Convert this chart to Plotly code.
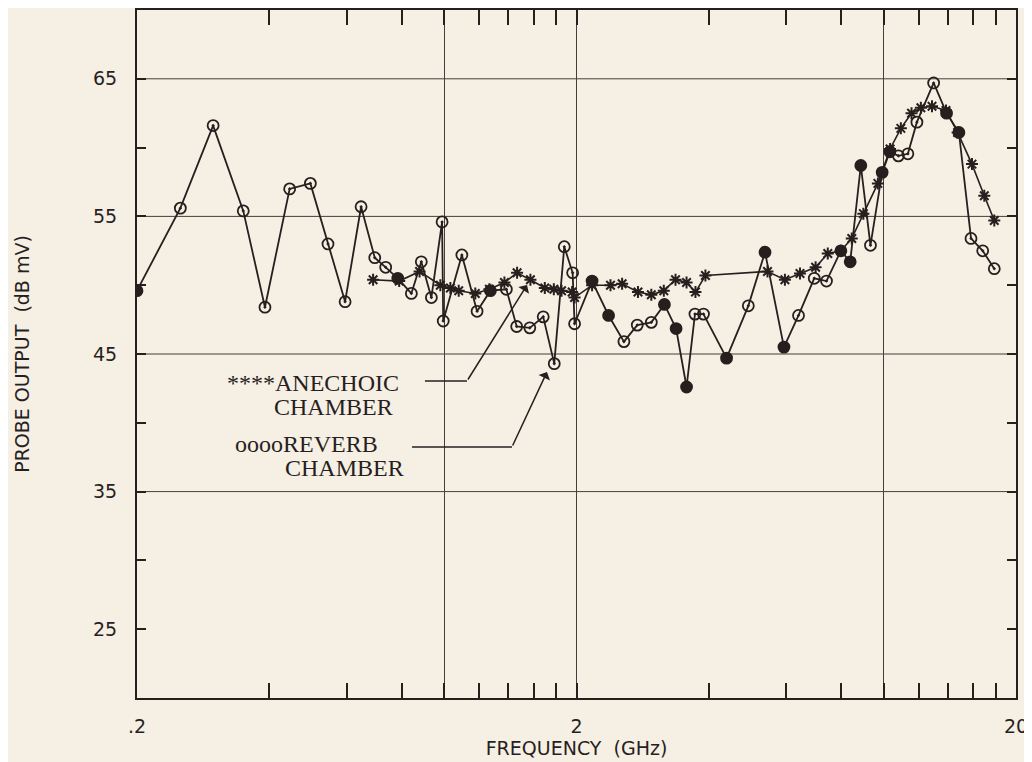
import plotly.graph_objects as go

# Colors
paper_cream = 'rgb(245,239,228)'
ink = 'rgb(40,30,30)'
grid_ink = 'rgb(70,62,58)'

# Reverb chamber (circles)
reverb_freq = [0.2, 0.251, 0.298, 0.349, 0.391, 0.445, 0.496, 0.544, 0.595, 0.647,
               0.695, 0.736, 0.784, 0.842, 0.887, 0.935, 0.989, 0.995, 1.097, 1.188,
               1.274, 1.385, 1.462, 1.566, 1.68, 1.78, 1.876, 1.96, 1.98, 2.17,
               2.366, 2.564, 2.75, 2.96, 3.17, 3.37, 3.56, 3.72, 3.89, 4.39,
               4.92, 5.37, 5.93, 6.40, 6.95, 7.41, 7.99, 8.39, 8.87, 9.33,
               9.92, 10.33, 10.8, 11.35, 11.9, 12.99, 13.9, 14.83, 15.8, 16.8, 17.85]
reverb_db = [49.6, 55.6, 61.6, 55.4, 48.4, 57.0, 57.4, 53.0, 48.8, 55.7,
             52.0, 51.3, 50.5, 49.4, 51.7, 49.1, 54.6, 47.4, 52.2, 48.1,
             49.6, 49.7, 47.0, 46.9, 47.7, 44.3, 52.8, 50.9, 47.2, 50.3,
             47.8, 45.9, 47.1, 47.3, 48.6, 46.85, 42.6, 47.9, 47.9, 44.7,
             48.5, 52.4, 45.5, 47.8, 50.5, 50.3, 52.5, 51.7, 58.7, 52.9,
             58.2, 59.7, 59.4, 59.55, 61.85, 64.7, 62.5, 61.1, 53.4, 52.5, 51.2]

# Anechoic chamber (asterisks)
anechoic_freq = [0.689, 0.79, 0.879, 0.98, 1.033, 1.079, 1.177, 1.267, 1.371, 1.465,
                 1.571, 1.694, 1.776, 1.849, 1.955, 1.98, 2.17, 2.39, 2.54, 2.76,
                 2.96, 3.16, 3.36, 3.56, 3.73, 3.93, 5.44, 5.96, 6.45, 7.0,
                 7.46, 7.99, 8.46, 8.99, 9.7, 10.34, 10.94, 11.57, 12.15, 12.88,
                 13.86, 14.73, 15.88, 16.94, 17.85]
anechoic_db = [50.4, 50.3, 51.0, 50.0, 49.8, 49.6, 49.4, 49.7, 50.2, 50.9,
               50.4, 49.8, 49.7, 49.6, 49.5, 49.1, 50.0, 50.0, 50.1, 49.5,
               49.3, 49.6, 50.4, 50.2, 49.5, 50.7, 51.0, 50.4, 50.85, 51.3,
               52.3, 52.5, 53.4, 55.2, 57.4, 59.9, 61.4, 62.5, 62.9, 63.0,
               62.7, 61.1, 58.8, 56.5, 54.7]

# Axis ticks
x_major = [0.2, 1, 2, 10, 20]
x_major_text = ['.2', '', '2', '', '20']
x_minor = [0.4, 0.6, 0.8, 1.2, 1.4, 1.6, 1.8, 4, 6, 8, 12, 14, 16, 18]
y_ticks = [25, 35, 45, 55, 65]
y_minor = [30, 40, 50, 60]
y_grid = [35, 45, 55, 65]

# some of the plotted circles came out solid
solid_points = {0, 12, 20, 29, 30, 34, 35, 36, 39, 41, 42, 46, 47, 48, 50, 51, 56, 57}
reverb_symbols = ['circle' if i in solid_points else 'circle-open-dot' for i in range(len(reverb_freq))]

fig = go.Figure()

fig.add_trace(go.Scatter(x=anechoic_freq, y=anechoic_db, mode='lines+markers',
                         name='Anechoic chamber',
                         line=dict(color=ink, width=1.6),
                         marker=dict(symbol='asterisk-open', size=10, color=ink,
                                     line=dict(color=ink, width=2))))

fig.add_trace(go.Scatter(x=reverb_freq, y=reverb_db, mode='lines+markers',
                         name='Reverb chamber',
                         line=dict(color=ink, width=1.8),
                         marker=dict(symbol=reverb_symbols, size=11, color=ink,
                                     line=dict(color=ink, width=1.8))))

for g in y_grid:
    fig.add_hline(y=g, line=dict(color=grid_ink, width=1), layer='below')

serif = dict(family='Liberation Serif', size=24, color=ink)
labels = [
    ('****ANECHOIC', 0.1997, 0.4578),
    ('CHAMBER', 0.2241, 0.4230),
    ('ooooREVERB', 0.1928, 0.3692),
    ('CHAMBER', 0.2366, 0.3343),
]
for txt, lx, ly in labels:
    fig.add_annotation(x=lx, y=ly, xref='paper', yref='paper', text=txt,
                       showarrow=False, font=serif, xanchor='center', yanchor='middle')

# leader lines with arrows
fig.add_shape(type='line', xref='paper', yref='paper', x0=0.3276, x1=0.3754, y0=0.4608, y1=0.4608,
              line=dict(color=ink, width=1.5))
fig.add_annotation(x=0.4437, y=0.6003, xref='paper', yref='paper', ax=-60, ay=96,
                   text='', showarrow=True, arrowhead=1, arrowsize=1.4, arrowwidth=1.5, arrowcolor=ink)
fig.add_shape(type='line', xref='paper', yref='paper', x0=0.3129, x1=0.4266, y0=0.3648, y1=0.3648,
              line=dict(color=ink, width=1.5))
fig.add_annotation(x=0.4664, y=0.4738, xref='paper', yref='paper', ax=-35, ay=75,
                   text='', showarrow=True, arrowhead=1, arrowsize=1.4, arrowwidth=1.5, arrowcolor=ink)

plotter = dict(family='DejaVu Sans', size=19, color=ink)

# page body has an 8px margin, so the figure starts 8px in from the window corner
fig.update_layout(
    width=1024, height=754,
    margin=dict(l=129, r=16, t=2, b=64),
    plot_bgcolor=paper_cream,
    paper_bgcolor=paper_cream,
    showlegend=False,
    xaxis=dict(type='log', range=[-0.69897, 1.30103],
               tickmode='array', tickvals=x_major, ticktext=x_major_text,
               ticks='inside', ticklen=15, tickwidth=1.5, tickcolor=ink,
               minor=dict(tickmode='array', tickvals=x_minor, ticks='inside',
                          ticklen=15, tickwidth=1.5, tickcolor=ink, showgrid=False),
               showgrid=True, gridcolor=grid_ink, gridwidth=1,
               showline=True, linecolor=ink, linewidth=2, mirror='ticks',
               zeroline=False, tickfont=plotter, ticklabelstandoff=10,
               ticklabeloverflow='allow', automargin=False,
               title=dict(text='FREQUENCY  (GHz)', font=plotter, standoff=4)),
    yaxis=dict(range=[20, 70],
               tickmode='array', tickvals=y_ticks,
               ticks='inside', ticklen=9, tickwidth=1.5, tickcolor=ink,
               minor=dict(tickmode='array', tickvals=y_minor, ticks='inside',
                          ticklen=9, tickwidth=1.5, tickcolor=ink, showgrid=False),
               showgrid=False,
               showline=True, linecolor=ink, linewidth=2, mirror='ticks',
               zeroline=False, tickfont=plotter, ticklabelstandoff=14, automargin=False,
               title=dict(text='PROBE OUTPUT  (dB mV)', font=plotter, standoff=58)),
)

fig.write_html("out.html")
